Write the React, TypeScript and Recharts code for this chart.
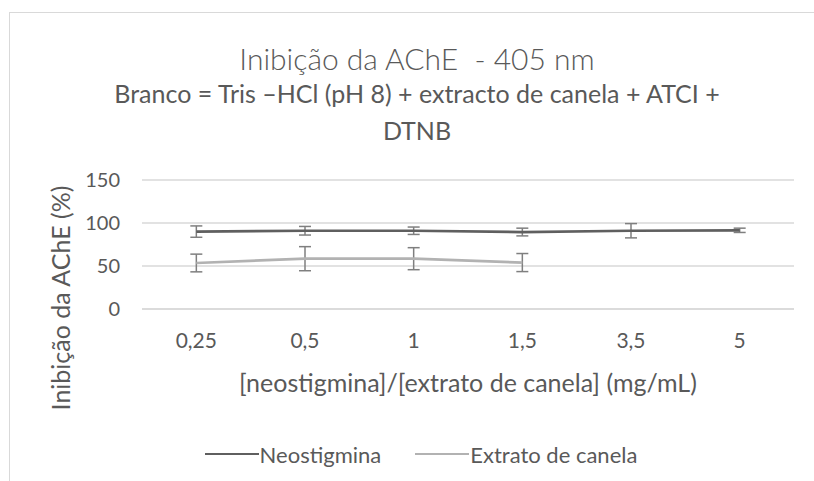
import React from "react";
import { LineChart, Line, XAxis, YAxis, CartesianGrid, ErrorBar, Legend } from "recharts";

const categories = ["0,25", "0,5", "1", "1,5", "3,5", "5"];
const neostigmina = [90, 91, 91, 89.5, 91, 91.5];
const neostigminaErr = [6.6, 5, 4.3, 4.5, 8.3, 2.5];
const extrato: (number | null)[] = [53.5, 58.5, 58.5, 54, null, null];
const extratoErr: (number | null)[] = [10.3, 14, 12.8, 10.5, null, null];
const yTicks = [0, 50, 100, 150];

const data = categories.map((c, i) => ({
  cat: c,
  neo: neostigmina[i],
  neoErr: neostigminaErr[i],
  ext: extrato[i],
  extErr: extratoErr[i],
}));

const FONT = "Lato, 'Open Sans', sans-serif";
const TXT = "#595959";
const NEO = "#5f5f5f";
const EXT = "#b2b2b2";

const LegendContent = () => (
  <div style={{ display: "flex", justifyContent: "center", alignItems: "center", fontFamily: FONT, fontSize: 22, color: TXT, paddingLeft: 28, boxSizing: "border-box", width: 814, height: 28 }}>
    <span style={{ display: "inline-block", width: 54, height: 2.5, background: NEO, marginRight: 1 }} />
    <span style={{ marginRight: 34 }}>Neostigmina</span>
    <span style={{ display: "inline-block", width: 54, height: 2.5, background: EXT, marginRight: 1 }} />
    <span>Extrato de canela</span>
  </div>
);

export default function App() {
  return (
    <div style={{ position: "absolute", left: 0, top: 0, width: 814, height: 481, overflow: "hidden", background: "#fff" }}>
      <div style={{ position: "absolute", left: 9, top: 12, width: 830, height: 500, border: "1.5px solid #d9d9d9" }} />
      <div style={{ position: "absolute", left: 0, top: 0 }}>
        <LineChart width={814} height={481} data={data} margin={{ top: 180, right: 20, bottom: 142, left: 82 }}>
          <CartesianGrid vertical={false} stroke="#d9d9d9" strokeWidth={1.3} />
          <XAxis
            dataKey="cat"
            scale="band"
            axisLine={{ stroke: "#d9d9d9", strokeWidth: 1.3 }}
            tickLine={false}
            tickSize={0}
            tick={{ fill: TXT, fontSize: 21, fontFamily: FONT }}
            tickMargin={24}
            height={30}
          />
          <YAxis
            domain={[0, 150]}
            ticks={yTicks}
            axisLine={false}
            tickLine={false}
            tickSize={0}
            tick={{ fill: TXT, fontSize: 20, fontFamily: FONT }}
            tickMargin={22}
            width={60}
          />
          <Legend
            content={<LegendContent />}
            verticalAlign="bottom"
            wrapperStyle={{ position: "absolute", left: 0, width: 814, top: 440, bottom: "auto", height: 0, overflow: "visible" }}
          />
          <Line dataKey="neo" name="Neostigmina" stroke={NEO} strokeWidth={2.7} dot={false} isAnimationActive={false}>
            <ErrorBar dataKey="neoErr" stroke="#7f7f7f" strokeWidth={1.5} width={6} />
          </Line>
          <Line dataKey="ext" name="Extrato de canela" stroke={EXT} strokeWidth={2.7} dot={false} isAnimationActive={false} connectNulls={false}>
            <ErrorBar dataKey="extErr" stroke="#7f7f7f" strokeWidth={1.5} width={6} />
          </Line>
        </LineChart>
      </div>
      <svg width={814} height={481} style={{ position: "absolute", left: 0, top: 0, pointerEvents: "none" }}>
        <g fontFamily={FONT} fill={TXT} textAnchor="middle">
          <text x={417} y={70} fontSize={30} fontWeight={300}>Inibição da AChE{"\u00a0"} - 405 nm</text>
          <text x={417} y={103} fontSize={25}>Branco = Tris –HCl (pH 8) + extracto de canela + ATCI +</text>
          <text x={417} y={140} fontSize={25}>DTNB</text>
          <text x={468} y={392} fontSize={25}>[neostigmina]/[extrato de canela] (mg/mL)</text>
          <text transform="translate(70,298) rotate(-90)" fontSize={25}>Inibição da AChE (%)</text>
        </g>
      </svg>
    </div>
  );
}
